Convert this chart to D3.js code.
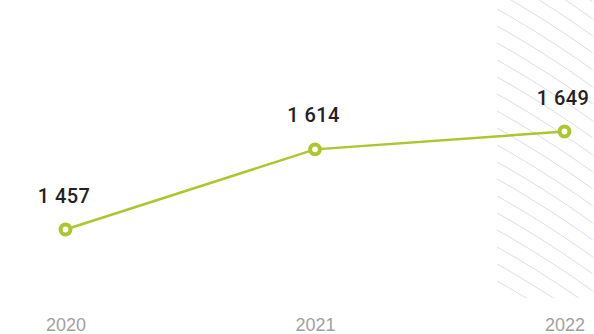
<!DOCTYPE html>
<html><head><meta charset="utf-8">
<script src="https://cdn.jsdelivr.net/npm/d3@7"></script>
<style>
html,body{margin:0;padding:0;background:#fff;}
svg{display:block;}
</style></head>
<body><svg id="c" width="594" height="334"></svg>
<script>
const years = ["2020", "2021", "2022"];
const values = [1457, 1614, 1649];
const valueLabels = ["1 457", "1 614", "1 649"];

const W = 594, H = 334;
const svg = d3.select("#c");
const x = d3.scalePoint().domain(years).range([65.5, 564.5]);
const y = d3.scaleLinear().domain([1457, 1649]).range([229.5, 131.5]);
const plotBottom = 298;

// hatched highlight region
const hx0 = 497;
const clip = svg.append("defs").append("clipPath").attr("id", "hclip");
clip.append("rect").attr("x", hx0).attr("y", 0).attr("width", W - hx0).attr("height", plotBottom);
const hg = svg.append("g").attr("clip-path", "url(#hclip)");
const hs = d3.range(-110, plotBottom + 20, 17);
hg.selectAll("path").data(hs).join("path")
  .attr("d", s => {
    const pts = d3.range(0, W - hx0 + 2, 4).map(dx => [hx0 + dx, s + 0.56 * dx + 0.0008 * dx * dx]);
    return d3.line()(pts);
  })
  .attr("fill", "none").attr("stroke", "#dcdcee").attr("stroke-width", 1);

// line
const data = years.map((yr, i) => ({yr, v: values[i], lab: valueLabels[i]}));
svg.append("path").datum(data)
  .attr("d", d3.line().x(d => x(d.yr)).y(d => y(d.v)))
  .attr("fill", "none").attr("stroke", "#acc62d").attr("stroke-width", 2.5);

svg.selectAll("circle.pt").data(data).join("circle")
  .attr("class", "pt")
  .attr("cx", d => x(d.yr)).attr("cy", d => y(d.v)).attr("r", 4.9)
  .attr("fill", "#fff").attr("stroke", "#acc62d").attr("stroke-width", 4);

svg.selectAll("text.val").data(data).join("text")
  .attr("class", "val")
  .attr("x", d => x(d.yr) - 1.5).attr("y", d => y(d.v) - 27)
  .attr("text-anchor", "middle")
  .attr("font-family", "Roboto, Liberation Sans, Arial, sans-serif")
  .attr("font-weight", 500)
  .attr("letter-spacing", 0.4)
  .attr("font-size", 20).attr("fill", "#222")
  .text(d => d.lab);

// x axis labels
const xAxis = d3.axisBottom(x).tickSize(0).tickPadding(0);
const ax = svg.append("g").attr("transform", `translate(0,${317})`).call(xAxis);
ax.select(".domain").remove();
ax.selectAll("text")
  .attr("dy", 0).attr("y", 14)
  .attr("font-family", "Liberation Sans, Arial, sans-serif")
  .attr("font-size", 18).attr("fill", "#a0a0a0");
</script></body></html>
